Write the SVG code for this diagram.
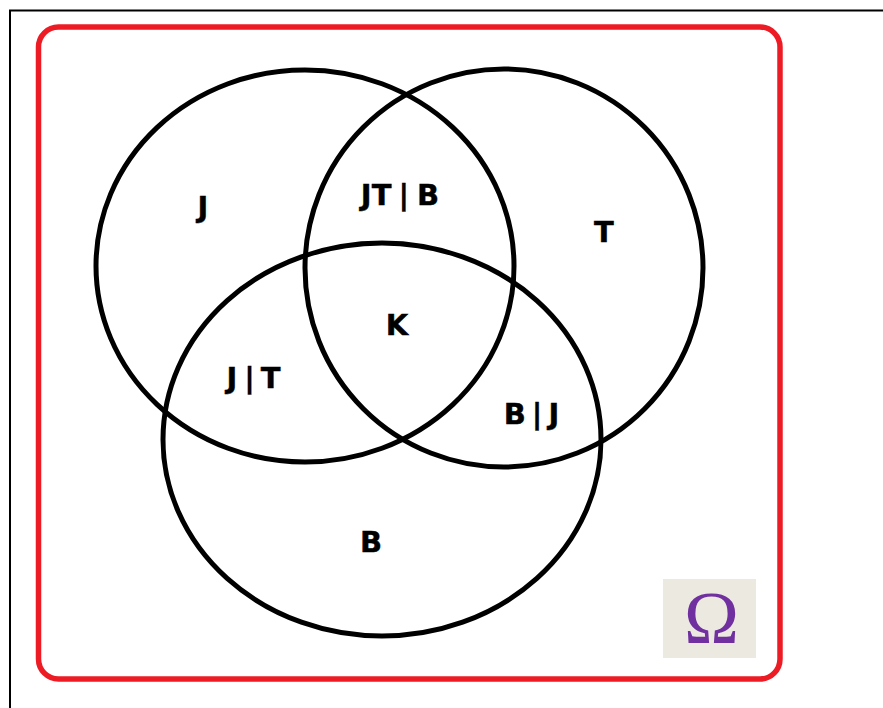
<svg xmlns="http://www.w3.org/2000/svg" width="883" height="708" viewBox="0 0 883 708">
<style>
.frame{fill:none;stroke:#000;stroke-width:2}
.omega-box{fill:none;stroke:#ED1C24;stroke-width:5.5}
.set{fill:none;stroke:#000;stroke-width:5}
.lbl{font-family:"DejaVu Sans",Verdana,sans-serif;font-weight:bold;font-size:29px;fill:#000;text-anchor:middle;stroke:#000;stroke-width:0.4}
</style>
<rect width="883" height="708" fill="#fff"/>
<path class="frame" d="M10,708 V10.5 H883"/>
<rect class="omega-box" x="38.5" y="27" width="741.5" height="652" rx="20"/>
<g id="connectors"></g>
<g id="setJ"><ellipse class="set" cx="305" cy="266" rx="209" ry="196"/></g>
<g id="setT"><ellipse class="set" cx="504" cy="268" rx="199" ry="199"/></g>
<g id="setB"><ellipse class="set" cx="382" cy="439.5" rx="219" ry="196.5"/></g>
<g id="labelJ"><text class="lbl" x="203" y="217">J</text></g>
<g id="labelJTB"><text class="lbl" x="400" y="205">JT<tspan dx="7">|</tspan><tspan dx="8">B</tspan></text></g>
<g id="labelT"><text class="lbl" x="604" y="242">T</text></g>
<g id="labelK"><text class="lbl" x="397" y="335">K</text></g>
<g id="labelJgT"><text class="lbl" x="253.5" y="388">J<tspan dx="7">|</tspan><tspan dx="6">T</tspan></text></g>
<g id="labelBgJ"><text class="lbl" x="531.5" y="424">B<tspan dx="6">|</tspan><tspan dx="6">J</tspan></text></g>
<g id="labelB"><text class="lbl" x="371" y="552">B</text></g>
<g id="omega">
<rect x="663" y="579" width="93" height="79" fill="#ECE9E0"/>
<text x="711.5" y="643" font-family="'Liberation Serif','Times New Roman',serif" font-size="74" fill="#7030A0" text-anchor="middle">Ω</text>
</g>
</svg>
